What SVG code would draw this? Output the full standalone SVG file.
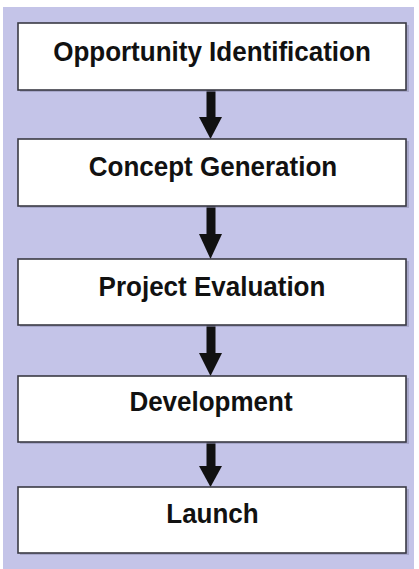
<svg xmlns="http://www.w3.org/2000/svg" width="419" height="569" viewBox="0 0 419 569">
<defs>
<style>
.box{fill:#ffffff;stroke:#3a3a44;stroke-width:1.6}
.shadow{fill:#8f8fb0;opacity:0.55}
.lbl{font-family:"Liberation Sans",Arial,sans-serif;font-weight:bold;font-size:26px;fill:#111111;text-anchor:middle}
.shaft{fill:#111111}
</style>
</defs>
<rect x="0" y="0" width="419" height="569" fill="#ffffff"/>
<rect x="3" y="7" width="411" height="562" fill="#c4c4e8"/>
<g id="connectors">
<rect class="shaft" x="206.5" y="90" width="9" height="28"/>
<polygon class="shaft" points="199,117 222,117 210.5,139"/>
<rect class="shaft" x="206.5" y="206" width="9" height="29"/>
<polygon class="shaft" points="199,234 222,234 210.5,259"/>
<rect class="shaft" x="206.5" y="325" width="9" height="29"/>
<polygon class="shaft" points="199,353 222,353 210.5,376"/>
<rect class="shaft" x="206.5" y="442" width="9" height="25"/>
<polygon class="shaft" points="199,466 222,466 210.5,487"/>
</g>
<g id="node-opportunity">
<rect class="shadow" x="20" y="25" width="389" height="67"/>
<rect class="box" x="18" y="23" width="388" height="67"/>
<text class="lbl" x="212" y="61" transform="translate(0,61) scale(1,1.06) translate(0,-61)">Opportunity Identification</text>
</g>
<g id="node-concept">
<rect class="shadow" x="20" y="141" width="389" height="67"/>
<rect class="box" x="18" y="139" width="388" height="67"/>
<text class="lbl" x="213" y="176" transform="translate(0,176) scale(1,1.06) translate(0,-176)">Concept Generation</text>
</g>
<g id="node-project">
<rect class="shadow" x="20" y="261" width="389" height="66"/>
<rect class="box" x="18" y="259" width="388" height="66"/>
<text class="lbl" x="212" y="296" transform="translate(0,296) scale(1,1.06) translate(0,-296)">Project Evaluation</text>
</g>
<g id="node-development">
<rect class="shadow" x="20" y="378" width="389" height="66"/>
<rect class="box" x="18" y="376" width="388" height="66"/>
<text class="lbl" x="211" y="411.5" transform="translate(0,411.5) scale(1,1.06) translate(0,-411.5)">Development</text>
</g>
<g id="node-launch">
<rect class="shadow" x="20" y="489" width="389" height="66"/>
<rect class="box" x="18" y="487" width="388" height="66"/>
<text class="lbl" x="212.5" y="523.5" transform="translate(0,523.5) scale(1,1.06) translate(0,-523.5)">Launch</text>
</g>
</svg>
